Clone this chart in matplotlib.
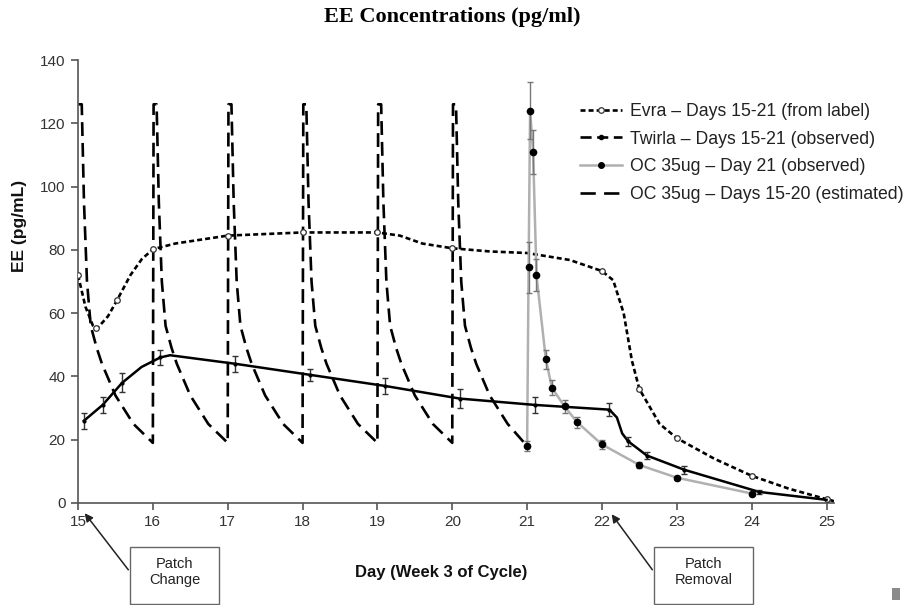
import matplotlib
matplotlib.use("Agg")
import matplotlib.pyplot as plt
from matplotlib.lines import Line2D
from matplotlib.patches import Rectangle
import numpy as np

plt.rcParams['font.family'] = ['Liberation Sans', 'DejaVu Sans']
plt.rcParams['lines.scale_dashes'] = False

# ---------------- data ----------------
x_ticks = [15, 16, 17, 18, 19, 20, 21, 22, 23, 24, 25]
y_ticks = [0, 20, 40, 60, 80, 100, 120, 140]

# Evra (from label): curve vertices and marker points
evra_line_days = [15.0, 15.1, 15.2, 15.25, 15.4, 15.52, 15.7, 15.85, 16.0, 16.3, 17.0, 18.0,
                  19.0, 19.3, 19.6, 20.0, 20.5, 21.0, 21.57, 22.0, 22.15, 22.29, 22.4, 22.5,
                  22.77, 23.0, 23.5, 24.0, 24.5, 25.0, 25.1]
evra_line_vals = [72, 62, 56, 55, 59, 64, 72, 77, 80.2, 82, 84.5, 85.5,
                  85.5, 84.5, 82, 80.5, 79.5, 79, 76.8, 73.3, 70.4, 60, 45, 36,
                  25, 20.5, 14, 8.6, 4.5, 1.2, 0.6]
evra_mark_days = [15.0, 15.24, 15.52, 16.0, 17.0, 18.0, 19.0, 20.0, 22.0, 22.5, 23.0, 24.0, 25.0]
evra_mark_vals = [72, 55.3, 64, 80.2, 84.5, 85.5, 85.5, 80.5, 73.3, 36, 20.5, 8.6, 1.2]

# Twirla (observed): curve vertices and observations with error
twirla_line_days = [15.08, 15.33, 15.59, 15.85, 16.1, 16.23, 17.1, 18.1, 19.1, 20.1, 21.1,
                    22.1, 22.2, 22.27, 22.35, 22.6, 23.1, 24.1, 25.0]
twirla_line_vals = [26, 31, 38, 43, 46, 46.7, 44, 40.5, 37, 33, 31,
                    29.5, 27, 22, 19.5, 15, 10.5, 3.5, 1]
twirla_obs_days = [15.08, 15.33, 15.59, 16.1, 17.1, 18.1, 19.1, 20.1, 21.1, 22.1, 22.35, 22.6, 23.1, 24.1]
twirla_obs_vals = [26, 31, 38, 46, 44, 40.5, 37, 33, 31, 29.5, 19.5, 15, 10.5, 3.5]
twirla_obs_err = [2.5, 2.5, 3, 2.5, 2.5, 2, 2.5, 3, 2.5, 2, 1.5, 1.2, 1.2, 0.6]

# OC 35ug - Day 21 (observed)
oc_obs_days = [21.0, 21.02, 21.04, 21.08, 21.125, 21.25, 21.33, 21.5, 21.67, 22.0, 22.5, 23.0, 24.0]
oc_obs_vals = [18, 74.5, 124, 111, 72, 45.5, 36.5, 30.5, 25.5, 18.5, 12, 8, 3]
oc_obs_err = [1.5, 8, 9, 7, 5, 3, 2.5, 2, 1.8, 1.5, 0.8, 0.6, 0.4]

# OC 35ug - Days 15-20 (estimated): one dosing cycle
oc_cycle_starts = [15, 16, 17, 18, 19, 20]
oc_cycle_offsets = [0.0, 0.01, 0.05, 0.08, 0.12, 0.17, 0.25, 0.32, 0.5, 0.74, 1.0]
oc_cycle_vals = [19, 126, 126, 95, 70, 56, 49, 44, 34, 25, 19]

# ---------------- figure ----------------
W, H = 904, 605
fig = plt.figure(figsize=(W / 100, H / 100), dpi=100)
ax = fig.add_axes([78 / W, 1 - 503 / H, (834 - 78) / W, (503 - 60) / H])

spine_c = '#555555'
for s in ['top', 'right']:
    ax.spines[s].set_visible(False)
for s in ['left', 'bottom']:
    ax.spines[s].set_color(spine_c)
    ax.spines[s].set_linewidth(1.2)

# OC estimated sawtooth
est_d, est_v = [], []
for i, d in enumerate(oc_cycle_starts):
    offs = oc_cycle_offsets
    vals = oc_cycle_vals
    if i == 0:
        offs = offs[1:]
        vals = vals[1:]
    for o, v in zip(offs, vals):
        est_d.append(d + o)
        est_v.append(v)
est_v[-1] = oc_obs_vals[0]
ax.plot(est_d, est_v, color='black', lw=1.9, dashes=(10, 5), zorder=3)

# Evra
ax.plot(evra_line_days, evra_line_vals, color='black', lw=1.9, dashes=(3.6, 2.2), zorder=4)
ax.plot(evra_mark_days, evra_mark_vals, 'o', ms=4, mfc='white', mec='#333333', mew=0.9, zorder=5)

# OC observed
ax.plot(oc_obs_days, oc_obs_vals, color='#b0b0b0', lw=1.8, zorder=4)
ax.errorbar(oc_obs_days, oc_obs_vals, yerr=oc_obs_err, fmt='none', ecolor='#777777',
            elinewidth=1, capsize=2.5, zorder=5)
ax.plot(oc_obs_days, oc_obs_vals, 'o', ms=4.5, color='black', zorder=6)

# Twirla
ax.plot(twirla_line_days, twirla_line_vals, color='black', lw=1.8, zorder=5)
ax.errorbar(twirla_obs_days, twirla_obs_vals, yerr=twirla_obs_err, fmt='none', ecolor='#333333',
            elinewidth=1, capsize=2.5, zorder=6)
ax.plot(twirla_obs_days, twirla_obs_vals, 'o', ms=2, color='black', zorder=7)

ax.set_xlim(15, 25.1)
ax.set_ylim(0, 140)
ax.set_xticks(x_ticks)
ax.set_yticks(y_ticks)
ax.tick_params(axis='both', direction='out', length=5, width=1.2, color=spine_c,
               labelsize=11, labelcolor='#333333', pad=4)

# axis labels
fig.text(441 / W, 1 - 573 / H, 'Day (Week 3 of Cycle)', ha='center', va='center',
         fontsize=12, fontweight='bold', color='#111111')
fig.text(20 / W, 1 - 226 / H, 'EE (pg/mL)', ha='center', va='center', rotation=90,
         fontsize=12.5, fontweight='bold', color='#111111')

# title
fig.text(452 / W, 1 - 17 / H, 'EE Concentrations (pg/ml)', ha='center', va='center',
         fontsize=16, fontweight='bold', family=['Liberation Serif', 'DejaVu Serif'])

# legend
handles = [
    Line2D([], [], color='black', lw=1.9, dashes=(3.6, 2.2), marker='o', ms=4,
           mfc='white', mec='#333333', mew=0.9),
    Line2D([], [], color='black', lw=1.9, dashes=(8, 4), marker='o', ms=3, mfc='black', mec='black'),
    Line2D([], [], color='#b0b0b0', lw=1.8, marker='o', ms=4, mfc='black', mec='black'),
    Line2D([], [], color='black', lw=1.9, dashes=(11, 6)),
]
labels = ['Evra \u2013 Days 15-21 (from label)',
          'Twirla \u2013 Days 15-21 (observed)',
          'OC 35ug \u2013 Day 21 (observed)',
          'OC 35ug \u2013 Days 15-20 (estimated)']
leg = fig.legend(handles, labels, loc='upper left', bbox_to_anchor=(580 / W, 1 - 103 / H),
                 frameon=False, fontsize=12.7, handlelength=2.4, handletextpad=0.45,
                 labelspacing=0.6, borderpad=0, borderaxespad=0, numpoints=1)
for t in leg.get_texts():
    t.set_color('#222222')

# annotation boxes
def fig_box(x0, y0, x1, y1, text):
    r = Rectangle((x0 / W, 1 - y1 / H), (x1 - x0) / W, (y1 - y0) / H, transform=fig.transFigure,
                  fill=False, edgecolor='#666666', lw=1.0)
    fig.add_artist(r)
    fig.text((x0 + x1) / 2 / W, 1 - (y0 + 25) / H, text, ha='center', va='center',
             fontsize=10.5, color='#222222', linespacing=1.25)

fig_box(130, 547, 219, 604, 'Patch\nChange')
fig_box(654, 547, 753, 604, 'Patch\nRemoval')

fig.add_artist(matplotlib.patches.FancyArrowPatch(
    (130 / W, 1 - 572 / H), (83 / W, 1 - 511 / H), transform=fig.transFigure,
    arrowstyle='-|>', mutation_scale=12, color='#222222', lw=1.1))
fig.add_artist(matplotlib.patches.FancyArrowPatch(
    (654 / W, 1 - 572 / H), (610 / W, 1 - 512 / H), transform=fig.transFigure,
    arrowstyle='-|>', mutation_scale=12, color='#222222', lw=1.1))

# small gray artifact in the corner
fig.add_artist(Rectangle((892 / W, 1 - 600 / H), 8 / W, 12 / H, transform=fig.transFigure,
                         color='#8a8a8a', lw=0))

fig.savefig('out.png', dpi=100)
